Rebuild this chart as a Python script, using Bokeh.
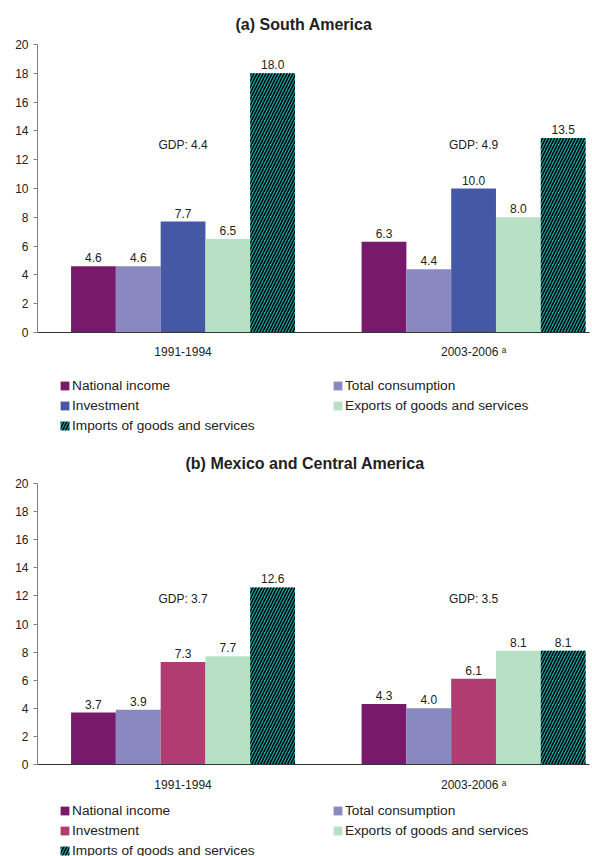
from bokeh.plotting import figure
from bokeh.layouts import column
from bokeh.models import ColumnDataSource, Legend, LegendItem, FixedTicker, Range1d
from bokeh.core.properties import value
from bokeh.embed import file_html
from bokeh.resources import INLINE

# ---------------- data ----------------
periods = ["1991-1994", "2003-2006 \u1d43"]
series_names = ["National income", "Total consumption", "Investment",
                "Exports of goods and services", "Imports of goods and services"]

sa_national_income = [4.6, 6.3]
sa_total_consumption = [4.6, 4.4]
sa_investment = [7.7, 10.0]
sa_exports = [6.5, 8.0]
sa_imports = [18.0, 13.5]
sa_gdp = [4.4, 4.9]

mca_national_income = [3.7, 4.3]
mca_total_consumption = [3.9, 4.0]
mca_investment = [7.3, 6.1]
mca_exports = [7.7, 8.1]
mca_imports = [12.6, 8.1]
mca_gdp = [3.7, 3.5]

y_ticks = [0, 2, 4, 6, 8, 10, 12, 14, 16, 18, 20]

FONT = "Liberation Sans"
TEXT = "#222222"
colors_a = ["#771A6B", "#8A88C1", "#4458A6", "#B8E0C4", "#17A3A3"]
colors_b = ["#771A6B", "#8A88C1", "#B03C71", "#B8E0C4", "#17A3A3"]

BAR_W = 0.1542
HATCH = dict(hatch_pattern="right_diagonal_line", hatch_color="black",
             hatch_scale=6, hatch_weight=1.5)


def bar_x(i):
    off = (i - 2) * BAR_W
    return [k + off for k in range(len(periods))]


def make_chart(title, values, gdp, gdp_y, colors, height, border_top, border_bottom,
               title_standoff, title_offset, xlabel_standoff):
    p = figure(width=592, height=height, output_backend="svg", toolbar_location=None,
               x_range=Range1d(-0.501, 1.399), y_range=Range1d(0, 20),
               min_border_left=37, min_border_right=3,
               min_border_top=border_top, min_border_bottom=border_bottom)
    p.title.text = title
    p.title.align = "left"
    p.title.offset = title_offset
    p.title.text_font = FONT
    p.title.text_font_size = "16px"
    p.title.text_font_style = "bold"
    p.title.text_color = TEXT
    p.title.standoff = title_standoff
    p.outline_line_color = None
    p.xgrid.visible = False
    p.ygrid.visible = False
    p.background_fill_color = "white"
    p.border_fill_color = "white"

    # y axis
    p.yaxis.ticker = FixedTicker(ticks=y_ticks)
    p.yaxis.axis_line_color = "#808080"
    p.yaxis.major_tick_line_color = "#808080"
    p.yaxis.major_tick_out = 4
    p.yaxis.major_tick_in = 0
    p.yaxis.minor_tick_line_color = None
    p.yaxis.major_label_text_font = FONT
    p.yaxis.major_label_text_font_size = "12px"
    p.yaxis.major_label_text_color = TEXT
    p.yaxis.major_label_standoff = 5

    # x axis
    p.xaxis.ticker = FixedTicker(ticks=[0, 1])
    p.xaxis.major_label_overrides = {0: periods[0], 1: periods[1]}
    p.xaxis.axis_line_color = "#333333"
    p.xaxis.major_tick_line_color = None
    p.xaxis.minor_tick_line_color = None
    p.xaxis.major_label_text_font = FONT
    p.xaxis.major_label_text_font_size = "12px"
    p.xaxis.major_label_text_color = TEXT
    p.xaxis.major_label_standoff = xlabel_standoff

    for i, (name, vals) in enumerate(zip(series_names, values)):
        src = ColumnDataSource(dict(x=bar_x(i), top=vals, label=["%.1f" % v for v in vals]))
        extra = HATCH if i == 4 else {}
        p.vbar(x="x", top="top", width=BAR_W, source=src,
               fill_color=colors[i], line_color=None, **extra)
        p.text(x="x", y="top", text="label", source=src, text_align="center",
               text_baseline="bottom", y_offset=-4, text_font=value(FONT),
               text_font_size="12px", text_color=TEXT)

    gsrc = ColumnDataSource(dict(x=list(range(len(periods))), y=[gdp_y] * len(periods),
                                 t=["GDP: %.1f" % g for g in gdp]))
    p.text(x="x", y="y", text="t", source=gsrc, text_align="center",
           text_baseline="middle", text_font=value(FONT), text_font_size="12px",
           text_color=TEXT)
    return p


def make_legend(values, colors, height, loc_y):
    q = figure(width=592, height=height, output_backend="svg", toolbar_location=None,
               x_range=Range1d(-0.501, 1.399), y_range=Range1d(0, 20),
               x_axis_location=None, y_axis_location=None,
               min_border_left=37, min_border_right=3,
               min_border_top=0, min_border_bottom=0)
    q.outline_line_color = None
    q.xgrid.visible = False
    q.ygrid.visible = False
    q.border_fill_color = "white"
    items = []
    for i, (name, vals) in enumerate(zip(series_names, values)):
        extra = HATCH if i == 4 else {}
        # zero-height proxy bars (bottom == top): only used to draw legend swatches
        src = ColumnDataSource(dict(x=bar_x(i), top=vals, bottom=vals))
        r = q.vbar(x="x", top="top", bottom="bottom", width=BAR_W, source=src,
                   fill_color=colors[i], line_color=None, fill_alpha=1, **extra)
        items.append(LegendItem(label=name, renderers=[r]))
    legend = Legend(items=items, orientation="horizontal", ncols=2,
                    location=(22, loc_y), margin=0, padding=0,
                    spacing=5, glyph_width=11, glyph_height=11,
                    label_standoff=2, label_width=255, label_height=15,
                    label_text_font=FONT, label_text_font_size="13.7px",
                    label_text_color=TEXT,
                    border_line_color=None, background_fill_alpha=0)
    q.add_layout(legend, "center")
    return q


vals_a = [sa_national_income, sa_total_consumption, sa_investment, sa_exports, sa_imports]
vals_b = [mca_national_income, mca_total_consumption, mca_investment, mca_exports, mca_imports]

p1 = make_chart("(a) South America", vals_a, sa_gdp, 13.0, colors_a,
                364, 44, 32, 24, 198, 6)
l1 = make_legend(vals_a, colors_a, 76, 7.5)
p2 = make_chart("(b) Mexico and Central America", vals_b, mca_gdp, 11.8, colors_b,
                356, 43, 32, 24, 148, 7)
l2 = make_legend(vals_b, colors_b, 60, -1.5)

layout = column(p1, l1, p2, l2, spacing=0)
open("out.html", "w").write(file_html(layout, INLINE))
